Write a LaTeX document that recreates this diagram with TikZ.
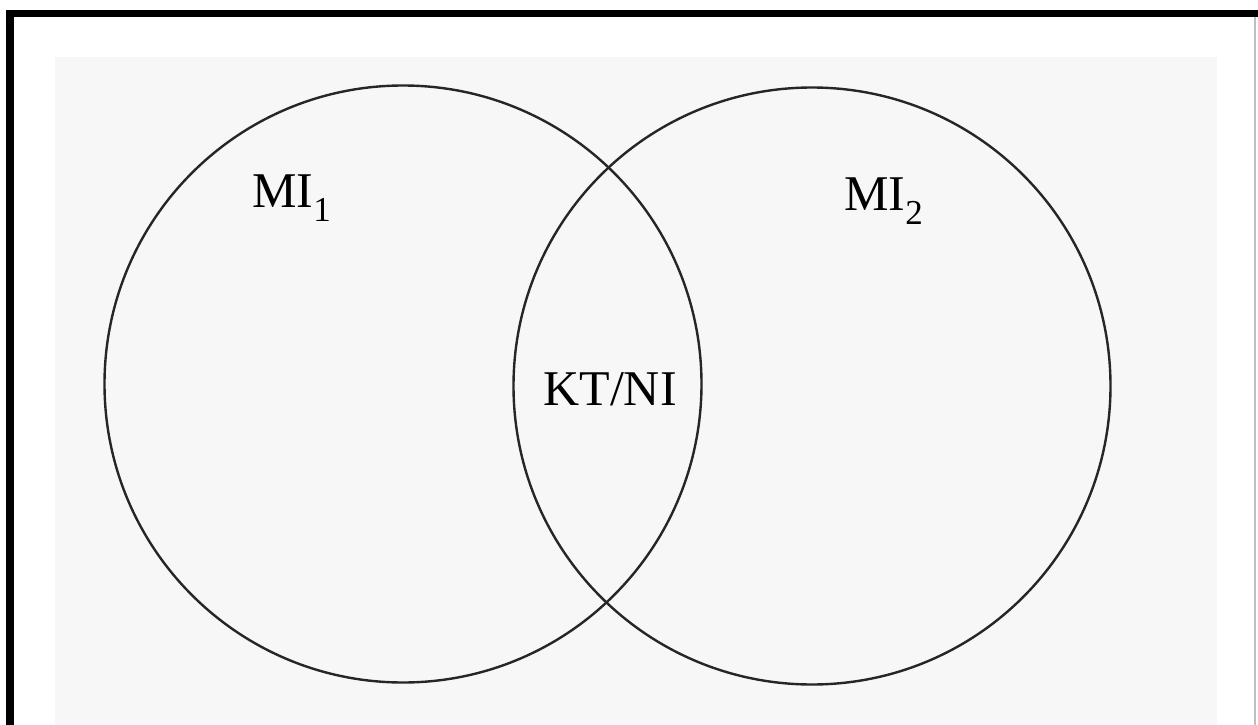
\documentclass[tikz,border=0pt]{standalone}
\usepackage{fontspec}
\setmainfont{Liberation Serif}
\usetikzlibrary{positioning}

\tikzset{
  set/.style={circle, draw=black!85, line width=2.4pt, minimum size=597pt, inner sep=0pt},
  setlabel/.style={inner sep=0pt, font=\fontsize{50}{60}\selectfont}
}

\begin{document}
\begin{tikzpicture}[x=1pt, y=-1pt]
    \useasboundingbox (0,0) rectangle (1258,725);
    % page and frame
    \fill[black!3] (55,57) rectangle (1217,725);
    \fill[black] (6,10) rectangle (1258,17);
    \fill[black] (6,10) rectangle (14,725);
    \draw[black!25, line width=1.5pt] (1255,17) -- (1255,725);

    \node[set] (mi1) at (403,384) {};
    \node[set] (mi2) at (812,386) {};

    \node[setlabel, anchor=base west] (l1) at (252,207) {MI\textsubscript{1}};
    \node[setlabel, anchor=base west] (l2) at (844,210) {MI\textsubscript{2}};
    \node[setlabel, anchor=base] (kt) at (610,405) {KT/NI};
  \end{tikzpicture}
\end{document}
